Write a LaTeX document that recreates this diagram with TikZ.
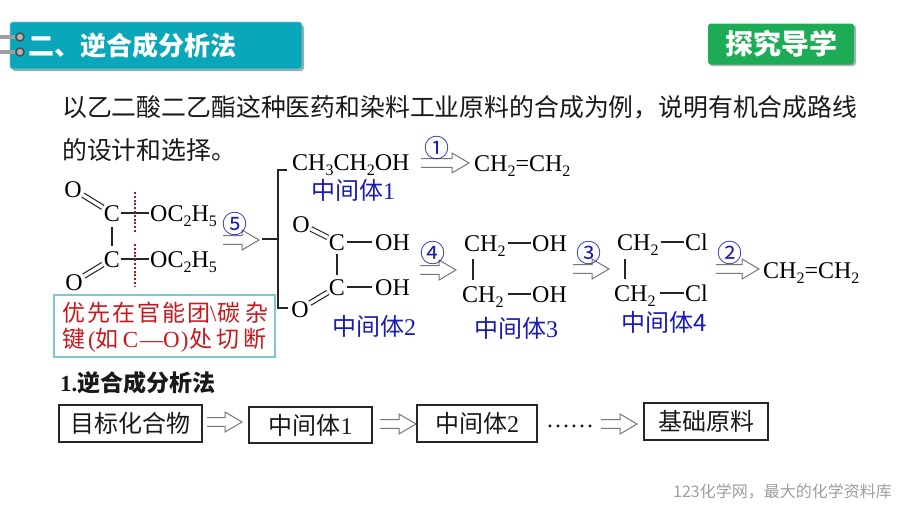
\documentclass[tikz,border=0pt]{standalone}
\usepackage{fontspec}
\setmainfont{Liberation Serif}
\newfontfamily\cjk{Noto Sans CJK SC}
\newcommand{\fs}[1]{\fontsize{#1}{#1}\selectfont}
\newcommand{\subn}[1]{\raisebox{-5pt}{\fs{16}#1}}
\definecolor{teal1}{HTML}{0AA6B9}
\definecolor{green1}{HTML}{1DAB56}
\definecolor{blue1}{HTML}{1A1AB4}
\definecolor{red1}{HTML}{C9171E}
\definecolor{tealbox}{HTML}{7CC8CC}
\definecolor{arrowgray}{HTML}{777777}
\tikzset{
  atom/.style={font=\fs{24},inner xsep=1pt,inner ysep=0pt,text height=16pt,text depth=0pt},
  bond/.style={line width=1.4pt,black!85},
  dbond/.style={line width=1.2pt,black!85,double,double distance=3.4pt},
  body/.style={font=\cjk\fs{24.85},inner sep=0pt,anchor=west,text=black!90},
  inter/.style={font=\cjk\fs{24},inner sep=0pt,anchor=west,text=blue1},
  num/.style={font=\cjk\fs{25},inner sep=0pt,text=blue1},
  flowbox/.style={draw=black!85,line width=1.8pt,inner sep=0pt,font=\cjk\fs{24},text=black!90},
  hollow/.style={draw=arrowgray,line width=1pt,fill=white,line join=miter},
  cut/.style={draw=red1!85!black,line width=1.9pt,dash pattern=on 1.9pt off 1.9pt},
  ringbar/.style={line width=4.5pt,draw=black!38},
  ring/.style={circle,draw=black!70,line width=1.4pt,fill=black!30,minimum size=8pt,inner sep=0pt}
}
% hollow double arrow between two named coordinates
\newcommand{\harrow}[2]{\draw[hollow] ([yshift=-4.3pt]#1) -- ([xshift=-17pt,yshift=-4.3pt]#2) -- ([xshift=-17pt,yshift=-10pt]#2) -- (#2) -- ([xshift=-17pt,yshift=10pt]#2) -- ([xshift=-17pt,yshift=4.3pt]#2) -- ([yshift=4.3pt]#1);}
\begin{document}
\begin{tikzpicture}[x=1pt,y=-1pt]
\useasboundingbox[fill=white] (0,0) rectangle (900,506);
% header
\fill[black!35,rounded corners=3pt] (12,25) rectangle (304,71);
\fill[teal1,rounded corners=3pt,draw=teal1!60!white,line width=.6pt] (10,22) rectangle (302,69);
\coordinate (ra0) at (0,37); \coordinate (rb0) at (0,52);
\node[ring] (ra) at (20,37) {};
\node[ring] (rb) at (20,52) {};
\draw[ringbar] (ra0) -- (ra);
\draw[ringbar] (rb0) -- (rb);
\node[font=\cjk\bfseries\fs{26},text=white,inner sep=0pt,anchor=west] (title) at (28,46) {二、逆合成分析法};
% badge
\fill[black!30,rounded corners=3pt] (709,25) rectangle (856,66);
\node[fill=green1,rounded corners=3pt,minimum width=146pt,minimum height=41pt,inner sep=0pt,font=\cjk\bfseries\fs{28},text=white] (badge) at (781,44) {探究导学};
% intro
\node[body] (l1) at (62,107) {以乙二酸二乙酯这种医药和染料工业原料的合成为例，说明有机合成路线};
\node[body] (l2) at (62,150) {的设计和选择。};
% target molecule
\node[atom] (O1) at (73,189) {O};
\node[atom] (C1) at (112,213) {C};
\node[atom,anchor=west] (E1) at (149,213) {OC\subn{2}H\subn{5}};
\node[atom] (C2) at (112,259) {C};
\node[atom,anchor=west] (E2) at (149,259) {OC\subn{2}H\subn{5}};
\node[atom] (O2) at (74,282) {O};
\draw[dbond] (O1) -- (C1);
\draw[dbond] (O2) -- (C2);
\draw[bond,shorten >=5pt,shorten <=6pt] (C1) -- (C2);
\draw[bond] (C1) -- (E1);
\draw[bond] (C2) -- (E2);
\coordinate (cutAt) at (135,192); \coordinate (cutAb) at (135,233);
\coordinate (cutBt) at (135,244); \coordinate (cutBb) at (135,287);
\draw[cut] (cutAt) -- (cutAb);
\draw[cut] (cutBt) -- (cutBb);
% arrow 5 and bracket
\coordinate (a5s) at (223,240); \coordinate (a5e) at (259,240);
\harrow{a5s}{a5e}
\node[num] (n5) at (235,224) {⑤};
\coordinate (brS) at (262,239); \coordinate (brM) at (278,239);
\coordinate (brT) at (287,170); \coordinate (brB) at (288,308);
\draw[bond] (brS) -- (brM);
\draw[bond] (brT) -| (brM) |- (brB);
% red note
\node[draw=tealbox,line width=1.2pt,minimum width=221pt,minimum height=62pt,inner sep=0pt] (note) at (164.5,326) {};
\node[font=\cjk\fs{23},text=red1,inner sep=0pt,anchor=west] (n1) at (62,313) {优\kern2pt 先\kern2pt 在\kern2pt 官\kern2pt 能\kern2pt 团{\rmfamily\textbackslash}\kern1pt 碳\kern5pt 杂};
\node[font=\cjk\fs{23},text=red1,inner sep=0pt,anchor=west] (n2) at (62,340) {键{\rmfamily\kern3pt(}如{\rmfamily\kern4pt C\kern2pt—O\kern1pt)\kern1pt}处\kern4pt 切\kern4pt 断};
% ethanol branch
\node[atom,anchor=west] (eth) at (291,162) {CH\subn{3}CH\subn{2}OH};
\node[inter] (i1) at (311,190) {中间体{\rmfamily 1}};
\coordinate (a1s) at (421,163); \coordinate (a1e) at (469,163);
\harrow{a1s}{a1e}
\node[num] (n1c) at (437,148) {①};
\node[atom,anchor=west] (et1) at (473,163) {CH\subn{2}=CH\subn{2}};
% oxalic acid
\node[atom] (O3) at (301,224) {O};
\node[atom] (C3) at (337,242) {C};
\node[atom,anchor=west] (H3) at (374,242) {OH};
\node[atom] (C4) at (337,287) {C};
\node[atom,anchor=west] (H4) at (374,287) {OH};
\node[atom] (O4) at (300,309) {O};
\draw[dbond] (O3) -- (C3);
\draw[dbond] (O4) -- (C4);
\draw[bond,shorten >=4pt,shorten <=4pt] (C3) -- (C4);
\draw[bond,shorten <=1pt,shorten >=2pt] (C3) -- (H3);
\draw[bond,shorten <=1pt,shorten >=2pt] (C4) -- (H4);
\node[inter] (i2) at (332,326) {中间体{\rmfamily 2}};
\coordinate (a4s) at (420,270); \coordinate (a4e) at (456,270);
\harrow{a4s}{a4e}
\node[num] (n4) at (433,253) {④};
% glycol
\node[atom,anchor=west] (G1) at (463,243) {CH\subn{2}};
\node[atom,anchor=west] (G1h) at (531,243) {OH};
\node[atom,anchor=west] (G2) at (461,294) {CH\subn{2}};
\node[atom,anchor=west] (G2h) at (531,294) {OH};
\draw[bond,shorten <=1pt] (G1) -- (G1h);
\draw[bond,shorten <=3pt] (G2) -- (G2h);
\coordinate (Gv1) at (473,259); \coordinate (Gv2) at (473,280);
\draw[bond] (Gv1) -- (Gv2);
\node[inter] (i3) at (474,328) {中间体{\rmfamily 3}};
\coordinate (a3s) at (573,269); \coordinate (a3e) at (609,269);
\harrow{a3s}{a3e}
\node[num] (n3) at (589,253) {③};
% dichloride
\node[atom,anchor=west] (D1) at (616,242) {CH\subn{2}};
\node[atom,anchor=west] (D1c) at (684,242) {Cl};
\node[atom,anchor=west] (D2) at (613,293) {CH\subn{2}};
\node[atom,anchor=west] (D2c) at (684,293) {Cl};
\draw[bond,shorten <=1pt] (D1) -- (D1c);
\draw[bond,shorten <=3pt] (D2) -- (D2c);
\coordinate (Dv1) at (625,259); \coordinate (Dv2) at (625,279);
\draw[bond] (Dv1) -- (Dv2);
\node[inter] (i4) at (621,322) {中间体4};
\coordinate (a2s) at (716,269); \coordinate (a2e) at (759,269);
\harrow{a2s}{a2e}
\node[num] (n2c) at (730,253) {②};
\node[atom,anchor=west] (et2) at (762,270) {CH\subn{2}=CH\subn{2}};
% method
\node[font=\cjk\bfseries\fs{23},inner sep=0pt,anchor=west,text=black!90] (m) at (60,383) {{\rmfamily\bfseries 1.}逆合成分析法};
\node[flowbox,minimum width=143pt,minimum height=37pt] (b1) at (130.5,423.5) {目标化合物};
\node[flowbox,minimum width=123pt,minimum height=36pt] (b2) at (310.5,425) {中间体{\rmfamily 1}};
\node[flowbox,minimum width=120pt,minimum height=37pt] (b3) at (477,423.5) {中间体{\rmfamily 2}};
\node[flowbox,minimum width=124pt,minimum height=37pt] (b4) at (706,421.5) {基础原料};
\coordinate (f1s) at (207,422); \coordinate (f1e) at (242,422);
\harrow{f1s}{f1e}
\coordinate (f2s) at (380,424); \coordinate (f2e) at (416,424);
\harrow{f2s}{f2e}
\node[font=\fs{24},inner sep=0pt,text=black!90] (dots) at (570,426) {……};
\coordinate (f3s) at (601,424); \coordinate (f3e) at (637,424);
\harrow{f3s}{f3e}
% footer
\node[font=\cjk\fs{16},text=black!38,inner sep=0pt,anchor=east] (foot) at (892,492) {123化学网，最大的化学资料库};
\end{tikzpicture}
\end{document}
